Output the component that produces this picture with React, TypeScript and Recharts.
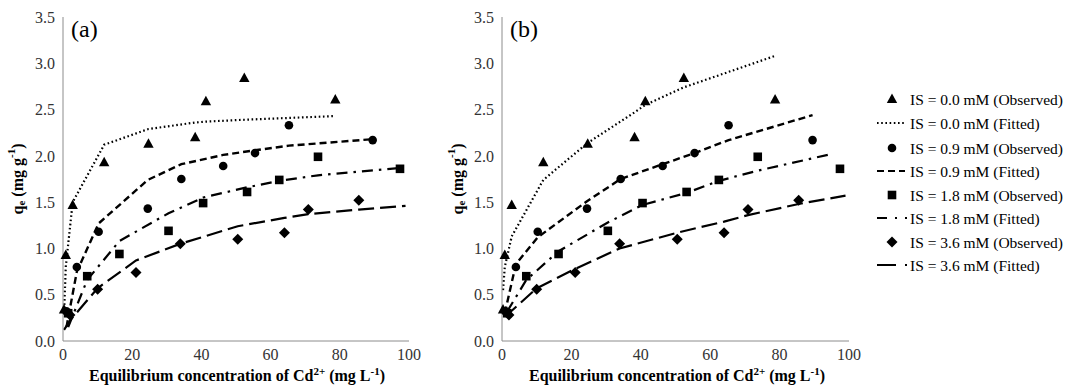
import React from "react";
import { ComposedChart, Line, Scatter, XAxis, YAxis } from "recharts";

// ---- Observed data (shared by both panels) ----
const obs00X = [0.3, 0.8, 2.8, 11.9, 24.7, 38.2, 41.3, 52.4, 78.7];
const obs00Y = [0.34, 0.93, 1.47, 1.93, 2.13, 2.2, 2.59, 2.84, 2.61];
const obs09X = [1.0, 4.0, 10.3, 24.5, 34.2, 46.3, 55.5, 65.3, 89.5];
const obs09Y = [0.32, 0.8, 1.18, 1.43, 1.75, 1.89, 2.03, 2.33, 2.17];
const obs18X = [1.5, 7.0, 16.3, 30.5, 40.5, 53.2, 62.5, 73.7, 97.4];
const obs18Y = [0.3, 0.7, 0.94, 1.19, 1.49, 1.61, 1.74, 1.99, 1.86];
const obs36X = [2.0, 10.0, 21.1, 33.9, 50.5, 64.0, 70.9, 85.5];
const obs36Y = [0.28, 0.56, 0.74, 1.05, 1.1, 1.17, 1.42, 1.52];

// ---- Fitted, panel (a) ----
const fitA00X = [0.3, 0.8, 2.8, 11.9, 24.7, 38.2, 41.3, 52.4, 78.7];
const fitA00Y = [0.3, 0.8, 1.5, 2.12, 2.29, 2.36, 2.37, 2.39, 2.43];
const fitA09X = [1.0, 4.0, 10.3, 24.5, 34.2, 46.3, 55.5, 65.3, 89.5];
const fitA09Y = [0.15, 0.75, 1.27, 1.74, 1.91, 2.01, 2.06, 2.11, 2.18];
const fitA18X = [1.5, 7.0, 16.3, 30.5, 40.5, 53.2, 62.5, 73.7, 97.4];
const fitA18Y = [0.15, 0.66, 1.08, 1.38, 1.55, 1.66, 1.73, 1.79, 1.87];
const fitA36X = [0.3, 2.0, 10.0, 21.1, 33.9, 50.5, 64.0, 70.9, 85.5, 99.0];
const fitA36Y = [0.12, 0.22, 0.57, 0.87, 1.05, 1.24, 1.33, 1.37, 1.42, 1.46];

// ---- Fitted, panel (b) ----
const fitB00X = [0.3, 0.8, 2.8, 11.9, 24.7, 38.2, 41.3, 52.4, 78.7];
const fitB00Y = [0.55, 0.8, 1.13, 1.74, 2.14, 2.47, 2.55, 2.74, 3.08];
const fitB09X = [0.8, 4.0, 10.3, 24.5, 34.2, 46.3, 55.5, 65.3, 89.5];
const fitB09Y = [0.3, 0.83, 1.12, 1.51, 1.75, 1.91, 2.03, 2.17, 2.44];
const fitB18X = [1.5, 7.0, 16.3, 30.5, 40.5, 53.2, 62.5, 73.7, 95.0];
const fitB18Y = [0.32, 0.66, 0.97, 1.28, 1.47, 1.6, 1.73, 1.84, 2.02];
const fitB36X = [0.3, 2.0, 10.0, 21.1, 33.9, 50.5, 64.0, 70.9, 85.5, 99.0];
const fitB36Y = [0.3, 0.3, 0.57, 0.78, 1.0, 1.17, 1.29, 1.36, 1.48, 1.57];

const xTicks = [0, 20, 40, 60, 80, 100];
const yTicks = [0, 0.5, 1, 1.5, 2, 2.5, 3, 3.5];
const legendLabels = [
  "IS = 0.0 mM (Observed)",
  "IS = 0.0 mM (Fitted)",
  "IS = 0.9 mM (Observed)",
  "IS = 0.9 mM (Fitted)",
  "IS = 1.8 mM (Observed)",
  "IS = 1.8 mM (Fitted)",
  "IS = 3.6 mM (Observed)",
  "IS = 3.6 mM (Fitted)",
];

const FONT = "Liberation Serif";
const fontStyle = { fontFamily: FONT };
const toPts = (xs: number[], ys: number[]) => xs.map((x, i) => ({ x, y: ys[i] }));

const Tri = (p: any) => (
  <polygon points={`${p.cx},${p.cy - 5.5} ${p.cx - 5.2},${p.cy + 4} ${p.cx + 5.2},${p.cy + 4}`} fill="#000" />
);
const Circ = (p: any) => <circle cx={p.cx} cy={p.cy} r={4.3} fill="#000" />;
const Sq = (p: any) => <rect x={p.cx - 4.3} y={p.cy - 4.3} width={8.6} height={8.6} fill="#000" />;
const Dia = (p: any) => (
  <polygon points={`${p.cx},${p.cy - 5.5} ${p.cx + 5.5},${p.cy} ${p.cx},${p.cy + 5.5} ${p.cx - 5.5},${p.cy}`} fill="#000" />
);

const DASH00 = "1.6 2.6";
const DASH09 = "7 4";
const DASH18 = "11 6 2.5 6";
const DASH36 = "16 6";

const YLab = () => (
  <text
    x={17}
    y={179}
    transform="rotate(-90, 17, 179)"
    textAnchor="middle"
    dominantBaseline="central"
    style={fontStyle}
    fontWeight="bold"
    fontSize={16}
    fill="#000"
  >
    q<tspan fontSize={11} dy={4}>e</tspan>
    <tspan dy={-4}> (mg g</tspan>
    <tspan fontSize={11} dy={-6}>-1</tspan>
    <tspan dy={6}>)</tspan>
  </text>
);

const XLab = () => (
  <text x={237} y={381} textAnchor="middle" style={fontStyle} fontWeight="bold" fontSize={16} fill="#000">
    Equilibrium concentration of Cd<tspan fontSize={11} dy={-6}>2+</tspan>
    <tspan dy={6}> (mg L</tspan>
    <tspan fontSize={11} dy={-6}>-1</tspan>
    <tspan dy={6}>)</tspan>
  </text>
);

type PanelProps = {
  tag: string;
  marginLeft: number;
  fits: { x: number[]; y: number[] }[];
};

const Panel = ({ tag, marginLeft, fits }: PanelProps) => {
  const dashes = [DASH00, DASH09, DASH18, DASH36];
  const widths = [2.2, 2.4, 2.2, 2.2];
  return (
    <ComposedChart width={440} height={387} margin={{ top: 17, right: 31, left: marginLeft, bottom: 15 }} style={fontStyle}>
      <XAxis
        type="number"
        dataKey="x"
        domain={[0, 100]}
        ticks={xTicks}
        tickLine={false}
        axisLine={{ stroke: "#8c8c8c" }}
        tick={{ fontFamily: FONT, fontSize: 16, fill: "#333", style: fontStyle }}
        height={31}
        label={{ content: () => <XLab /> }}
      />
      <YAxis
        type="number"
        dataKey="y"
        domain={[0, 3.5]}
        ticks={yTicks}
        tickLine={false}
        axisLine={{ stroke: "#8c8c8c" }}
        tickFormatter={(v: number) => v.toFixed(1)}
        tick={{ fontFamily: FONT, fontSize: 16, fill: "#333", style: fontStyle }}
        width={50}
        label={{ content: () => <YLab /> }}
      />
      {fits.map((f, i) => (
        <Line
          key={i}
          data={toPts(f.x, f.y)}
          dataKey="y"
          type="linear"
          stroke="#000"
          strokeWidth={widths[i]}
          strokeDasharray={dashes[i]}
          dot={false}
          activeDot={false}
          isAnimationActive={false}
        />
      ))}
      <Scatter data={toPts(obs00X, obs00Y)} dataKey="y" shape={Tri} isAnimationActive={false} />
      <Scatter data={toPts(obs09X, obs09Y)} dataKey="y" shape={Circ} isAnimationActive={false} />
      <Scatter data={toPts(obs18X, obs18Y)} dataKey="y" shape={Sq} isAnimationActive={false} />
      <Scatter data={toPts(obs36X, obs36Y)} dataKey="y" shape={Dia} isAnimationActive={false} />
      <text x={marginLeft + 50 + 8} y={37} style={fontStyle} fontSize={24} fill="#000">
        {tag}
      </text>
    </ComposedChart>
  );
};

const LegendBox = () => {
  const rowY = [39, 63, 88, 111, 135, 158, 182, 205];
  const markers = [Tri, null, Circ, null, Sq, null, Dia, null];
  const legendDashes = ["1.6 2.6", "7 4", "10 8 2 8 2 100", "19 9 2 100"];
  const legendEnds = [45, 45, 49, 49];
  return (
    <svg width={212} height={250} style={{ position: "absolute", left: 860, top: 60 }}>
      {legendLabels.map((lab, i) => {
        const y = rowY[i];
        const M = markers[i];
        const k = (i - 1) / 2;
        return (
          <g key={i}>
            {M ? (
              <M cx={32} cy={y} />
            ) : (
              <line
                x1={17}
                x2={legendEnds[k]}
                y1={y}
                y2={y}
                stroke="#000"
                strokeWidth={2.2}
                strokeDasharray={legendDashes[k]}
              />
            )}
            <text x={50} y={y} dominantBaseline="central" style={fontStyle} fontSize={15.5} fill="#000">
              {lab}
            </text>
          </g>
        );
      })}
    </svg>
  );
};

export default function App() {
  return (
    <div style={{ position: "absolute", left: 0, top: 0, width: 1072, height: 387, background: "#fff", fontFamily: FONT }}>
      <div style={{ position: "absolute", left: 0, top: 0 }}>
        <Panel
          tag="(a)"
          marginLeft={13}
          fits={[
            { x: fitA00X, y: fitA00Y },
            { x: fitA09X, y: fitA09Y },
            { x: fitA18X, y: fitA18Y },
            { x: fitA36X, y: fitA36Y },
          ]}
        />
      </div>
      <div style={{ position: "absolute", left: 440, top: 0 }}>
        <Panel
          tag="(b)"
          marginLeft={12}
          fits={[
            { x: fitB00X, y: fitB00Y },
            { x: fitB09X, y: fitB09Y },
            { x: fitB18X, y: fitB18Y },
            { x: fitB36X, y: fitB36Y },
          ]}
        />
      </div>
      <LegendBox />
    </div>
  );
}
